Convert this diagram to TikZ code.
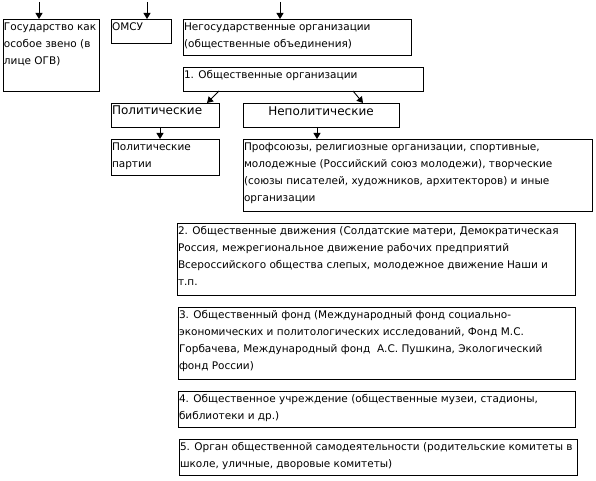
\documentclass[tikz,border=0pt]{standalone}
\usepackage{fontspec}
\setmainfont{DejaVu Sans}
\usetikzlibrary{arrows.meta}
\tikzset{
  box/.style={draw, line width=0.9pt, anchor=north west, inner sep=0pt, outer sep=0pt},
  txt/.style={anchor=north west, inner sep=0pt, outer sep=0pt, xshift=1pt},
  arr/.style={line width=0.9pt, -{Triangle[length=6pt,width=7pt]}},
}
\newcommand{\tx}[1]{\parbox[t]{500pt}{\fontsize{10.5}{17}\selectfont\strut #1}}
\newcommand{\hx}[1]{\parbox[t]{200pt}{\fontsize{12}{17}\selectfont\strut #1}}
\begin{document}
\begin{tikzpicture}[x=1pt,y=-1pt]
\useasboundingbox (0,0) rectangle (596,481);
\node[box, minimum width=96pt, minimum height=72pt] (b1) at (3,19) {};
\node[box, minimum width=60pt, minimum height=24pt] (b2) at (111,19) {};
\node[box, minimum width=228pt, minimum height=36pt] (b3) at (183,19) {};
\node[box, minimum width=240pt, minimum height=24pt] (b4) at (183,67) {};
\node[box, minimum width=108pt, minimum height=24pt] (b5) at (111,103) {};
\node[box, minimum width=156pt, minimum height=24pt] (b6) at (243,103) {};
\node[box, minimum width=108pt, minimum height=36pt] (b7) at (111,139) {};
\node[box, minimum width=349pt, minimum height=72pt] (b8) at (243,139) {};
\node[box, minimum width=398pt, minimum height=72pt] (b9) at (177,223) {};
\node[box, minimum width=397pt, minimum height=72pt] (b10) at (178,307) {};
\node[box, minimum width=397pt, minimum height=36pt] (b11) at (178,391) {};
\node[box, minimum width=398pt, minimum height=36pt] (b12) at (179,439) {};
\node[txt] (l1) at (b1.north west) {\tx{Государство как\\особое звено (в\\лице ОГВ)}};
\node[txt] (l2) at (b2.north west) {\tx{ОМСУ}};
\node[txt] (l3) at (b3.north west) {\tx{Негосударственные организации\\(общественные объединения)}};
\node[txt] (l4) at (b4.north west) {\tx{1. Общественные организации}};
\node[txt] (l5) at (b5.north west) {\hx{Политические}};
\node[anchor=north, inner sep=0pt] (l6) at (b6.north) {\parbox[t]{156pt}{\centering\fontsize{12}{17}\selectfont\strut Неполитические}};
\node[txt] (l7) at (b7.north west) {\tx{Политические\\партии}};
\node[txt] (l8) at (b8.north west) {\tx{Профсоюзы, религиозные организации, спортивные,\\молодежные (Российский союз молодежи), творческие\\(союзы писателей, художников, архитекторов) и иные\\организации}};
\node[txt] (l9) at (b9.north west) {\tx{2. Общественные движения (Солдатские матери, Демократическая\\Россия, межрегиональное движение рабочих предприятий\\Всероссийского общества слепых, молодежное движение Наши и\\т.п.}};
\node[txt] (l10) at (b10.north west) {\tx{3. Общественный фонд (Международный фонд социально-\\экономических и политологических исследований, Фонд М.С.\\Горбачева, Международный фонд~ А.С. Пушкина, Экологический\\фонд России)}};
\node[txt] (l11) at (b11.north west) {\tx{4. Общественное учреждение (общественные музеи, стадионы,\\библиотеки и др.)}};
\node[txt] (l12) at (b12.north west) {\tx{5. Орган общественной самодеятельности (родительские комитеты в\\школе, уличные, дворовые комитеты)}};
\coordinate (t1) at (39,2);
\coordinate (t2) at (147,2);
\coordinate (t3) at (280,2);
\draw[arr] (t1) -- (t1 |- b1.north);
\draw[arr] (t2) -- (t2 |- b2.north);
\draw[arr] (t3) -- (t3 |- b3.north);
\coordinate (s5) at (219,91);
\coordinate (e5) at (207,103);
\coordinate (s6) at (353,91);
\coordinate (e6) at (363,103);
\draw[arr] (s5) -- (e5);
\draw[arr] (s6) -- (e6);
\coordinate (p7) at (160,127);
\coordinate (p8) at (317,127);
\draw[arr] (p7) -- (p7 |- b7.north);
\draw[arr] (p8) -- (p8 |- b8.north);
\end{tikzpicture}
\end{document}
